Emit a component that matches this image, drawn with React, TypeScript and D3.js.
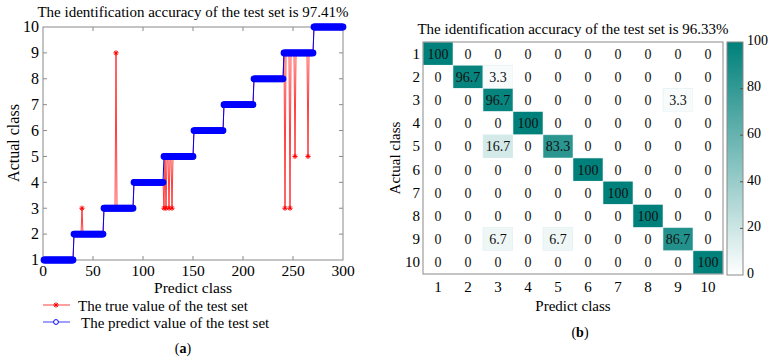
import * as d3 from "d3";
import { useEffect, useRef } from "react";

const FONT = "'Liberation Serif', 'Times New Roman', serif";

// (a) samples per predicted class, in order
const classSizes = [30, 30, 30, 30, 30, 30, 30, 30, 30, 30];
// samples whose true class differs from the predicted one
const misses = [
    { index: 39, trueClass: 3 },
    { index: 73, trueClass: 9 },
    { index: 121, trueClass: 3 },
    { index: 123, trueClass: 3 },
    { index: 126, trueClass: 3 },
    { index: 129, trueClass: 3 },
    { index: 242, trueClass: 3 },
    { index: 247, trueClass: 3 },
    { index: 252, trueClass: 5 },
    { index: 265, trueClass: 5 },
];
const xTicksA = [0, 50, 100, 150, 200, 250, 300];
const yTicksA = [1, 2, 3, 4, 5, 6, 7, 8, 9, 10];
const titleA = "The identification accuracy of the test set is 97.41%";
const legendA = ["The true value of the test set", "The predict value of the test set"];

// (b) confusion matrix in percent, rows = actual, cols = predicted
const classLabels = ["1", "2", "3", "4", "5", "6", "7", "8", "9", "10"];
const confusion = [
    [100, 0, 0, 0, 0, 0, 0, 0, 0, 0],
    [0, 96.7, 3.3, 0, 0, 0, 0, 0, 0, 0],
    [0, 0, 96.7, 0, 0, 0, 0, 0, 3.3, 0],
    [0, 0, 0, 100, 0, 0, 0, 0, 0, 0],
    [0, 0, 16.7, 0, 83.3, 0, 0, 0, 0, 0],
    [0, 0, 0, 0, 0, 100, 0, 0, 0, 0],
    [0, 0, 0, 0, 0, 0, 100, 0, 0, 0],
    [0, 0, 0, 0, 0, 0, 0, 100, 0, 0],
    [0, 0, 6.7, 0, 6.7, 0, 0, 0, 86.7, 0],
    [0, 0, 0, 0, 0, 0, 0, 0, 0, 100],
];
const colorTicks = [0, 20, 40, 60, 80, 100];
const titleB = "The identification accuracy of the test set is 96.33%";

const starPath = (s) => `M${-s},0H${s}M0,${-s}V${s}M${-s * 0.7},${-s * 0.7}L${s * 0.7},${s * 0.7}M${-s * 0.7},${s * 0.7}L${s * 0.7},${-s * 0.7}`;

const drawLineChart = (svg) => {
    const x = d3.scaleLinear().domain([0, 300]).range([43, 343]);
    const y = d3.scaleLinear().domain([1, 10]).range([260, 27]);
    const g = svg.append("g").attr("font-family", FONT);

    const predicted = classSizes.flatMap((n, k) => Array(n).fill(k + 1));
    const actual = predicted.map((c, i) => misses.find((m) => m.index === i + 1)?.trueClass ?? c);
    const pts = (arr) => arr.map((v, i) => [i + 1, v]);

    g.append("rect")
        .attr("x", x(0)).attr("y", y(10))
        .attr("width", x(300) - x(0)).attr("height", y(1) - y(10))
        .attr("fill", "none").attr("stroke", "#8a8a8a");

    const line = d3.line().x((d) => x(d[0])).y((d) => y(d[1]));

    // true values (red, stars)
    g.append("path").attr("d", line(pts(actual))).attr("fill", "none")
        .attr("stroke", "#ff0000").attr("stroke-opacity", 0.75).attr("stroke-width", 1);
    g.append("g").selectAll("path").data(pts(actual)).join("path")
        .attr("transform", (d) => `translate(${x(d[0])},${y(d[1])})`)
        .attr("d", starPath(2.6)).attr("stroke", "#ff0000").attr("stroke-width", 1).attr("fill", "none");

    // predicted values (blue, circles)
    g.append("path").attr("d", line(pts(predicted))).attr("fill", "none")
        .attr("stroke", "#0000ff").attr("stroke-width", 1);
    g.append("g").selectAll("circle").data(pts(predicted)).join("circle")
        .attr("cx", (d) => x(d[0])).attr("cy", (d) => y(d[1])).attr("r", 2.7)
        .attr("fill", "none").attr("stroke", "#0000ff").attr("stroke-width", 1.4);

    const ticks = g.append("g").attr("stroke", "#8a8a8a");
    xTicksA.slice(1, -1).forEach((t) => {
        ticks.append("line").attr("x1", x(t)).attr("x2", x(t)).attr("y1", y(1)).attr("y2", y(1) - 4);
        ticks.append("line").attr("x1", x(t)).attr("x2", x(t)).attr("y1", y(10)).attr("y2", y(10) + 4);
    });
    yTicksA.slice(1, -1).forEach((t) => {
        ticks.append("line").attr("x1", x(0)).attr("x2", x(0) + 4).attr("y1", y(t)).attr("y2", y(t));
        ticks.append("line").attr("x1", x(300)).attr("x2", x(300) - 4).attr("y1", y(t)).attr("y2", y(t));
    });

    g.append("g").attr("font-size", 15.5).attr("text-anchor", "middle")
        .selectAll("text").data(xTicksA).join("text")
        .attr("x", x).attr("y", 276).text((d) => d);
    g.append("g").attr("font-size", 16).attr("text-anchor", "end")
        .selectAll("text").data(yTicksA).join("text")
        .attr("x", x(0) - 4).attr("y", y).attr("dy", "0.33em").text((d) => d);

    g.append("text").attr("x", 193).attr("y", 17).attr("font-size", 15).attr("text-anchor", "middle").text(titleA);
    g.append("text").attr("x", 193).attr("y", 293).attr("font-size", 15.5).attr("text-anchor", "middle").text("Predict class");
    g.append("text").attr("transform", "translate(19,143) rotate(-90)").attr("font-size", 16)
        .attr("text-anchor", "middle").text("Actual class");

    // legend
    const lg = g.append("g").attr("font-size", 15);
    lg.append("line").attr("x1", 43).attr("x2", 70).attr("y1", 305).attr("y2", 305).attr("stroke", "#ff0000").attr("stroke-opacity", 0.75);
    lg.append("path").attr("transform", "translate(56,305)").attr("d", starPath(2.6)).attr("stroke", "#ff0000").attr("fill", "none");
    lg.append("text").attr("x", 78).attr("y", 310.5).text(legendA[0]);
    lg.append("line").attr("x1", 43).attr("x2", 70).attr("y1", 322).attr("y2", 322).attr("stroke", "#0000ff").attr("stroke-opacity", 0.75);
    lg.append("circle").attr("cx", 56).attr("cy", 322).attr("r", 2.4).attr("stroke", "#0000ff").attr("fill", "#fff");
    lg.append("text").attr("x", 81).attr("y", 327.5).text(legendA[1]);

    const cap = g.append("text").attr("x", 183).attr("y", 353).attr("font-size", 14).attr("text-anchor", "middle");
    cap.append("tspan").text("(");
    cap.append("tspan").attr("font-weight", "bold").text("a");
    cap.append("tspan").text(")");
};

const drawHeatmap = (svg) => {
    const x = d3.scaleBand().domain(classLabels).range([423, 723]);
    const y = d3.scaleBand().domain(classLabels).range([42, 274]);
    const color = d3.scaleLinear().domain([0, 100]).range(["#ffffff", "#00807a"]).interpolate(d3.interpolateRgb);
    const g = svg.append("g").attr("font-family", FONT);

    const cells = confusion.flatMap((row, r) => row.map((v, c) => ({ r: classLabels[r], c: classLabels[c], v })));
    g.append("g").selectAll("rect").data(cells).join("rect")
        .attr("x", (d) => x(d.c)).attr("y", (d) => y(d.r))
        .attr("width", x.bandwidth()).attr("height", y.bandwidth())
        .attr("fill", (d) => color(d.v))
        .attr("stroke", (d) => (d.v > 0 ? "#dfeeee" : "none")).attr("stroke-width", 0.6);
    g.append("g").attr("font-size", 14).attr("text-anchor", "middle")
        .selectAll("text").data(cells).join("text")
        .attr("x", (d) => x(d.c) + x.bandwidth() / 2).attr("y", (d) => y(d.r) + y.bandwidth() / 2)
        .attr("dy", "0.35em").attr("fill", "#111").text((d) => d.v);

    g.append("rect").attr("x", 423).attr("y", 42).attr("width", 300).attr("height", 232)
        .attr("fill", "none").attr("stroke", "#8a8a8a");

    g.append("g").attr("font-size", 15).attr("text-anchor", "end")
        .selectAll("text").data(classLabels).join("text")
        .attr("x", 420).attr("y", (d) => y(d) + y.bandwidth() / 2).attr("dy", "0.33em").text((d) => d);
    g.append("g").attr("font-size", 15).attr("text-anchor", "middle")
        .selectAll("text").data(classLabels).join("text")
        .attr("x", (d) => x(d) + x.bandwidth() / 2).attr("y", 292).text((d) => d);

    g.append("text").attr("x", 573).attr("y", 34).attr("font-size", 15).attr("text-anchor", "middle").text(titleB);
    g.append("text").attr("x", 573).attr("y", 311).attr("font-size", 15).attr("text-anchor", "middle").text("Predict class");
    g.append("text").attr("transform", "translate(400,158) rotate(-90)").attr("font-size", 15)
        .attr("text-anchor", "middle").text("Actual class");

    // colorbar
    const cy = d3.scaleLinear().domain([0, 100]).range([275, 42]);
    const grad = svg.append("defs").append("linearGradient").attr("id", "cbGrad")
        .attr("x1", 0).attr("x2", 0).attr("y1", 1).attr("y2", 0);
    grad.append("stop").attr("offset", "0%").attr("stop-color", color(0));
    grad.append("stop").attr("offset", "100%").attr("stop-color", color(100));
    g.append("rect").attr("x", 727).attr("y", cy(100)).attr("width", 16).attr("height", cy(0) - cy(100))
        .attr("fill", "url(#cbGrad)").attr("stroke", "#8a8a8a");
    g.append("g").attr("stroke", "#555").selectAll("line").data(colorTicks.slice(1, -1)).join("line")
        .attr("x1", 743).attr("x2", 740).attr("y1", cy).attr("y2", cy);
    g.append("g").attr("font-size", 14)
        .selectAll("text").data(colorTicks).join("text")
        .attr("x", 747).attr("y", cy).attr("dy", "0.2em").text((d) => d);

    const cap = g.append("text").attr("x", 580).attr("y", 337).attr("font-size", 14).attr("text-anchor", "middle");
    cap.append("tspan").text("(");
    cap.append("tspan").attr("font-weight", "bold").text("b");
    cap.append("tspan").text(")");
};

export default function App() {
    const svgRef = useRef(null);
    useEffect(() => {
        const svg = d3.select(svgRef.current);
        svg.selectAll("*").remove();
        drawLineChart(svg);
        drawHeatmap(svg);
    }, []);
    return (
        <svg
            ref={svgRef}
            width={772}
            height={360}
            style={{ position: "absolute", left: 0, top: 0, background: "#fff" }}
        ></svg>
    );
}
